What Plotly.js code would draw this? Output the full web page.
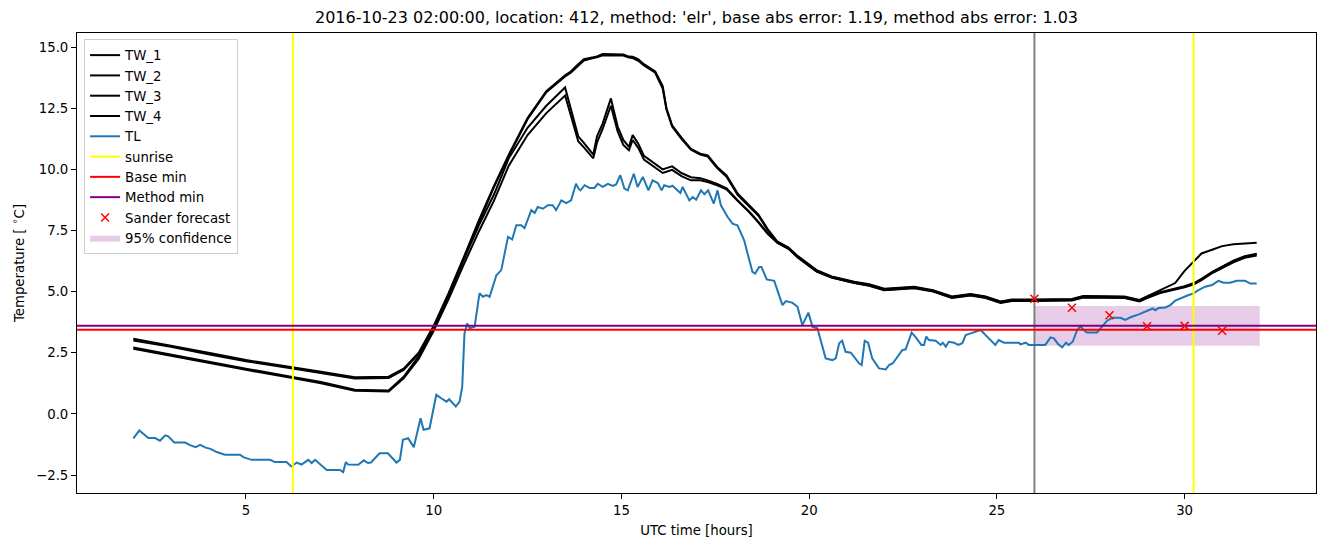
<!DOCTYPE html>
<html>
<head>
<meta charset="utf-8">
<script src="https://cdn.plot.ly/plotly-3.0.1.min.js"></script>
<style>html,body{margin:0;padding:0;background:#fff;}#chart{width:1326px;height:547px;}</style>
</head>
<body>
<div id="chart"></div>
<script>
// ---- data (hours UTC, temperatures in degC) ----
const TITLE = "2016-10-23 02:00:00, location: 412, method: 'elr', base abs error: 1.19, method abs error: 1.03";

const TW_HOURS = [2, 3, 4, 5, 6.2, 7, 7.9, 8.8, 9.2, 9.6, 10, 10.4, 10.8, 11.2, 11.6, 12, 12.5, 13, 13.5, 13.65, 13.85, 14.0, 14.25, 14.35, 14.5, 14.72, 14.9, 15.05, 15.2, 15.3, 15.45, 15.6, 15.9, 16.1, 16.2, 16.35, 16.6, 16.85, 17.1, 17.3, 17.55, 17.8, 18.1, 18.4, 18.65, 18.9, 19.15, 19.45, 19.7, 20.2, 20.6, 21.2, 21.6, 22.0, 22.4, 22.8, 23.3, 23.8, 24.3, 24.7, 25.1, 25.4, 26, 27, 27.3, 28.4, 28.8, 29.0, 29.35, 29.75, 30.0, 30.25, 30.45, 30.75, 31.0, 31.3, 31.6, 31.92];

const TW_1 = [3.07, 2.80, 2.50, 2.20, 1.93, 1.72, 1.50, 1.52, 1.85, 2.50, 3.60, 4.95, 6.40, 7.90, 9.30, 10.60, 12.10, 13.20, 13.85, 14.00, 14.30, 14.50, 14.58, 14.62, 14.72, 14.72, 14.72, 14.70, 14.61, 14.60, 14.50, 14.30, 14.00, 13.40, 12.50, 11.80, 11.30, 10.84, 10.64, 10.57, 10.10, 9.75, 9.00, 8.55, 8.15, 7.55, 7.05, 6.80, 6.45, 5.88, 5.62, 5.40, 5.30, 5.12, 5.17, 5.20, 5.06, 4.80, 4.90, 4.80, 4.60, 4.68, 4.68, 4.70, 4.82, 4.80, 4.66, 4.80, 5.05, 5.35, 5.85, 6.26, 6.56, 6.72, 6.86, 6.94, 6.96, 7.00];

const TW_2 = [3.00, 2.74, 2.44, 2.15, 1.87, 1.66, 1.45, 1.47, 1.80, 2.45, 3.55, 4.90, 6.35, 7.85, 9.25, 10.55, 12.05, 13.15, 13.80, 13.95, 14.25, 14.45, 14.55, 14.58, 14.66, 14.66, 14.66, 14.65, 14.57, 14.55, 14.44, 14.25, 13.95, 13.30, 12.45, 11.75, 11.25, 10.80, 10.60, 10.52, 10.05, 9.70, 8.95, 8.50, 8.10, 7.50, 7.00, 6.75, 6.40, 5.83, 5.58, 5.36, 5.25, 5.07, 5.12, 5.16, 5.02, 4.76, 4.86, 4.76, 4.56, 4.64, 4.64, 4.66, 4.78, 4.76, 4.62, 4.76, 4.96, 5.10, 5.20, 5.33, 5.50, 5.80, 6.02, 6.25, 6.42, 6.53];

const TW_3 = [2.72, 2.42, 2.12, 1.85, 1.52, 1.30, 0.99, 0.96, 1.52, 2.35, 3.50, 4.85, 6.30, 7.70, 8.95, 10.45, 11.70, 12.60, 13.35, 12.50, 11.35, 11.08, 10.60, 11.35, 11.87, 12.90, 11.75, 11.20, 10.92, 11.40, 11.05, 10.55, 10.20, 10.00, 10.05, 10.12, 9.85, 9.68, 9.64, 9.55, 9.40, 9.22, 8.73, 8.28, 7.85, 7.38, 7.03, 6.78, 6.42, 5.85, 5.60, 5.38, 5.28, 5.10, 5.14, 5.18, 5.04, 4.78, 4.88, 4.78, 4.58, 4.66, 4.66, 4.68, 4.80, 4.78, 4.64, 4.78, 4.98, 5.12, 5.22, 5.35, 5.52, 5.82, 6.04, 6.27, 6.45, 6.55];

const TW_4 = [2.66, 2.37, 2.07, 1.80, 1.48, 1.25, 0.95, 0.92, 1.45, 2.25, 3.40, 4.70, 6.10, 7.45, 8.70, 10.15, 11.40, 12.30, 13.02, 12.20, 11.15, 10.90, 10.45, 11.10, 11.65, 12.60, 11.55, 11.00, 10.78, 11.20, 10.88, 10.40, 10.05, 9.85, 9.90, 9.98, 9.72, 9.55, 9.55, 9.48, 9.35, 9.18, 8.70, 8.25, 7.82, 7.35, 7.00, 6.76, 6.40, 5.82, 5.57, 5.35, 5.24, 5.06, 5.10, 5.14, 5.00, 4.74, 4.84, 4.74, 4.54, 4.62, 4.62, 4.64, 4.76, 4.74, 4.60, 4.74, 4.94, 5.08, 5.18, 5.30, 5.47, 5.77, 5.98, 6.20, 6.38, 6.48];

const TL_HOURS = [2.0, 2.16, 2.4, 2.58, 2.71, 2.85, 2.93, 3.09, 3.38, 3.51, 3.66, 3.78, 3.91, 4.07, 4.22, 4.44, 4.84, 4.93, 5.15, 5.64, 5.77, 6.08, 6.21, 6.35, 6.48, 6.66, 6.75, 6.84, 7.15, 7.5, 7.59, 7.66, 7.72, 7.99, 8.14, 8.25, 8.33, 8.56, 8.78, 9.01, 9.10, 9.18, 9.32, 9.47, 9.65, 9.73, 9.89, 10.07, 10.20, 10.34, 10.41, 10.59, 10.69, 10.76, 10.82, 10.89, 10.96, 11.09, 11.22, 11.31, 11.40, 11.49, 11.67, 11.80, 11.98, 12.09, 12.20, 12.33, 12.42, 12.60, 12.69, 12.77, 12.91, 13.04, 13.17, 13.26, 13.40, 13.53, 13.66, 13.79, 13.86, 13.91, 14.02, 14.15, 14.28, 14.37, 14.50, 14.64, 14.77, 14.86, 14.97, 15.08, 15.17, 15.33, 15.43, 15.57, 15.72, 15.83, 15.97, 16.07, 16.14, 16.28, 16.36, 16.45, 16.57, 16.63, 16.81, 16.90, 16.99, 17.12, 17.21, 17.31, 17.46, 17.56, 17.65, 17.83, 17.96, 18.09, 18.27, 18.36, 18.49, 18.56, 18.67, 18.73, 18.87, 19.07, 19.16, 19.29, 19.38, 19.56, 19.69, 19.82, 19.98, 20.09, 20.22, 20.44, 20.62, 20.71, 20.80, 20.88, 20.97, 21.11, 21.33, 21.40, 21.48, 21.57, 21.68, 21.86, 22.04, 22.13, 22.23, 22.48, 22.57, 22.73, 22.84, 22.99, 23.06, 23.12, 23.19, 23.37, 23.50, 23.56, 23.64, 23.72, 23.86, 23.97, 24.08, 24.17, 24.30, 24.43, 24.57, 24.70, 24.83, 24.96, 25.05, 25.19, 25.59, 25.63, 25.77, 25.85, 26.29, 26.43, 26.52, 26.63, 26.74, 26.84, 26.91, 27.02, 27.14, 27.23, 27.31, 27.40, 27.67, 27.80, 27.93, 28.07, 28.29, 28.42, 28.56, 28.78, 29.00, 29.15, 29.22, 29.31, 29.49, 29.62, 29.75, 29.93, 30.11, 30.24, 30.37, 30.55, 30.73, 30.90, 31.04, 31.21, 31.39, 31.61, 31.75, 31.92];

const TL = [-1.00, -0.68, -0.99, -0.99, -1.10, -0.88, -0.92, -1.17, -1.17, -1.28, -1.36, -1.27, -1.37, -1.44, -1.56, -1.67, -1.67, -1.77, -1.88, -1.88, -1.97, -1.97, -2.15, -1.99, -2.07, -1.88, -2.01, -1.88, -2.29, -2.29, -2.38, -1.97, -2.07, -2.08, -1.90, -2.01, -1.99, -1.61, -1.61, -1.99, -1.88, -1.06, -0.99, -1.36, -0.18, -0.65, -0.59, 0.78, 0.64, 0.50, 0.60, 0.30, 0.50, 1.11, 3.29, 3.70, 3.50, 3.56, 4.93, 4.79, 4.86, 4.79, 5.67, 5.88, 7.24, 7.13, 7.71, 7.71, 7.60, 8.33, 8.22, 8.46, 8.39, 8.53, 8.53, 8.33, 8.73, 8.62, 8.73, 9.41, 9.21, 9.14, 9.35, 9.24, 9.24, 9.41, 9.28, 9.41, 9.32, 9.38, 9.76, 9.21, 9.14, 9.82, 9.28, 9.69, 9.14, 9.55, 9.44, 9.14, 9.35, 9.28, 9.33, 9.21, 9.03, 9.28, 8.73, 8.87, 8.76, 9.14, 8.98, 9.14, 8.60, 9.14, 8.53, 8.05, 7.78, 7.71, 7.10, 6.56, 5.81, 5.74, 6.01, 6.01, 5.50, 5.44, 5.06, 4.45, 4.61, 4.54, 4.38, 3.63, 4.14, 3.56, 3.50, 2.27, 2.20, 2.27, 2.89, 2.99, 2.54, 2.50, 2.07, 2.00, 2.99, 2.91, 2.27, 1.86, 1.82, 2.00, 2.07, 2.61, 2.64, 3.32, 3.13, 2.82, 2.82, 3.16, 3.02, 2.99, 2.82, 2.91, 2.75, 2.95, 2.91, 2.82, 2.89, 3.22, 3.29, 3.36, 3.43, 3.22, 3.02, 2.82, 3.02, 2.91, 2.91, 2.84, 2.91, 2.82, 2.82, 3.13, 3.09, 2.86, 2.72, 2.91, 2.82, 2.95, 3.43, 3.59, 3.43, 3.33, 3.33, 3.56, 3.80, 3.93, 3.93, 3.84, 3.95, 4.07, 4.22, 4.31, 4.24, 4.33, 4.35, 4.45, 4.63, 4.76, 4.86, 4.93, 5.06, 5.20, 5.27, 5.44, 5.36, 5.36, 5.44, 5.44, 5.33, 5.33];

const SUNRISE_HOURS = [6.25, 30.24];
const FORECAST_START = 26.0;
const BASE_MIN = 3.44;
const METHOD_MIN = 3.60;
const SANDER_HOURS = [26, 27, 28, 29, 30, 31];
const SANDER_VALUES = [4.71, 4.34, 4.03, 3.58, 3.60, 3.40];
const CONF_HOURS = [26, 32];
const CONF_LOW = 2.79;
const CONF_HIGH = 4.41;

const X_TICKS = [5, 10, 15, 20, 25, 30];
const Y_TICKS = [-2.5, 0, 2.5, 5, 7.5, 10, 12.5, 15];

// ---- axis limits computed like matplotlib autoscale (5% margins) ----
const allX = [].concat(TW_HOURS, TL_HOURS, CONF_HOURS, SANDER_HOURS);
const allY = [].concat(TW_1, TW_2, TW_3, TW_4, TL, SANDER_VALUES, [CONF_LOW, CONF_HIGH, BASE_MIN, METHOD_MIN]);
function padRange(arr){const lo=Math.min(...arr),hi=Math.max(...arr),p=(hi-lo)*0.05;return [lo-p,hi+p];}
const X_RANGE = padRange(allX);
const Y_RANGE = padRange(allY);

const FONT = "DejaVu Sans, sans-serif";
const traces = [];

// confidence band (drawn first, listed last in legend)
traces.push({
  x: [CONF_HOURS[0], CONF_HOURS[1], CONF_HOURS[1], CONF_HOURS[0], CONF_HOURS[0]],
  y: [CONF_LOW, CONF_LOW, CONF_HIGH, CONF_HIGH, CONF_LOW],
  type: 'scatter', mode: 'lines', fill: 'toself',
  fillcolor: 'rgba(128,0,128,0.2)', line: {width: 0, color: 'rgba(128,0,128,0)'},
  name: '95% confidence', legendrank: 2000, hoverinfo: 'skip'
});

// forecast start line (no legend)
traces.push({
  x: [FORECAST_START, FORECAST_START], y: Y_RANGE,
  type: 'scatter', mode: 'lines', line: {color: '#808080', width: 2},
  showlegend: false, hoverinfo: 'skip'
});

[['TW_1', TW_1], ['TW_2', TW_2], ['TW_3', TW_3], ['TW_4', TW_4]].forEach(function(p, i){
  traces.push({x: TW_HOURS, y: p[1], type: 'scatter', mode: 'lines',
    line: {color: '#000000', width: 2}, name: p[0], legendrank: 1000 + i});
});
traces.push({x: TL_HOURS, y: TL, type: 'scatter', mode: 'lines',
  line: {color: '#1f77b4', width: 2}, name: 'TL', legendrank: 1010});

// sunrise vertical lines
const sx = [], sy = [];
SUNRISE_HOURS.forEach(function(h){ sx.push(h, h, null); sy.push(Y_RANGE[0], Y_RANGE[1], null); });
traces.push({x: sx, y: sy, type: 'scatter', mode: 'lines',
  line: {color: '#ffff00', width: 2}, name: 'sunrise', legendrank: 1020});

traces.push({x: X_RANGE, y: [BASE_MIN, BASE_MIN], type: 'scatter', mode: 'lines',
  line: {color: '#ff0000', width: 2}, name: 'Base min', legendrank: 1030});
traces.push({x: X_RANGE, y: [METHOD_MIN, METHOD_MIN], type: 'scatter', mode: 'lines',
  line: {color: '#800080', width: 2}, name: 'Method min', legendrank: 1040});

traces.push({x: SANDER_HOURS, y: SANDER_VALUES, type: 'scatter', mode: 'markers',
  marker: {symbol: 'x-thin', size: 8, color: '#ff0000', line: {color: '#ff0000', width: 1.5}},
  name: 'Sander forecast', legendrank: 1050});

const layout = {
  width: 1326, height: 547,
  margin: {l: 77, r: 10, t: 33, b: 54},
  paper_bgcolor: '#ffffff', plot_bgcolor: '#ffffff',
  font: {family: FONT, size: 13.3, color: '#000000'},
  title: {text: TITLE, font: {family: FONT, size: 16, color: '#000000'},
          x: 0.5, xref: 'paper', xanchor: 'center', y: 1 - 17/547, yref: 'container', yanchor: 'middle'},
  showlegend: true,
  legend: {x: 0.0057, y: 0.987, xanchor: 'left', yanchor: 'top',
           bgcolor: 'rgba(255,255,255,0.8)', bordercolor: '#cccccc', borderwidth: 1,
           font: {family: FONT, size: 13.3, color: '#000000'}, tracegroupgap: 0},
  xaxis: {range: X_RANGE, tickvals: X_TICKS, ticktext: X_TICKS.map(String),
          showgrid: false, zeroline: false, showline: true, mirror: true,
          linecolor: '#000000', linewidth: 1, ticks: 'outside', ticklen: 5, tickwidth: 1, tickcolor: '#000000',
          tickfont: {family: FONT, size: 13.3, color: '#000000'},
          title: {text: 'UTC time [hours]', font: {family: FONT, size: 13.3, color: '#000000'}, standoff: 8}},
  yaxis: {range: Y_RANGE, tickvals: Y_TICKS, tickformat: '.1f',
          showgrid: false, zeroline: false, showline: true, mirror: true,
          linecolor: '#000000', linewidth: 1, ticks: 'outside', ticklen: 5, tickwidth: 1, tickcolor: '#000000',
          tickfont: {family: FONT, size: 13.3, color: '#000000'},
          title: {text: 'Temperature [ <sup>∘</sup>C]', font: {family: FONT, size: 13.3, color: '#000000'}, standoff: 8}}
};

Plotly.newPlot('chart', traces, layout, {displayModeBar: false, staticPlot: true});
</script>
</body>
</html>
